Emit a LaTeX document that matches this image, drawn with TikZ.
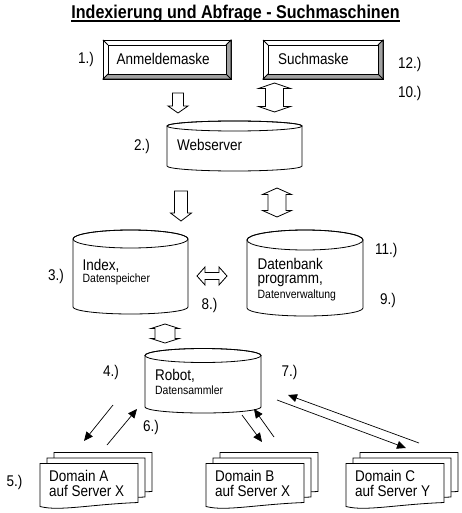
\documentclass[tikz,border=0pt]{standalone}
\usepackage{fontspec}
\setmainfont{Liberation Sans}[FakeStretch=0.87]
\usetikzlibrary{arrows.meta}
\definecolor{bevgray}{gray}{0.63}
% cylinder: name, x0, x1, ytop, ybot, ry top, ry bottom
\newcommand\mycyl[7]{%
  \pgfmathsetmacro\cylcx{(#2+#3)/2}%
  \pgfmathsetmacro\cylrx{(#3-#2)/2}%
  \pgfmathsetmacro\cylcy{(#4+#5)/2}%
  \draw[shapeline,fill=white] (#2,#4) -- (#2,#5) arc[start angle=180,end angle=360,x radius=\cylrx pt,y radius=#7pt] -- (#3,#4) arc[start angle=0,end angle=180,x radius=\cylrx pt,y radius=#6pt] -- cycle;
  \draw[shapeline] (\cylcx,#4) ellipse[x radius=\cylrx pt,y radius=#6pt];
  \coordinate (#1) at (\cylcx,\cylcy);
}
% bevel button: name, x0, y0, x1, y1
\newcommand\mybtn[5]{%
  \pgfmathsetmacro\ba{#2+5}\pgfmathsetmacro\bb{#3+5}%
  \pgfmathsetmacro\bc{#4-5}\pgfmathsetmacro\bd{#5-5}%
  \draw[shapeline,fill=white] (#2,#3) rectangle (#4,#5);
  \draw[shapeline,fill=bevgray] (#4,#3) -- (#4,#5) -- (#2,#5) -- (\ba,\bd) -- (\bc,\bd) -- (\bc,\bb) -- cycle;
  \draw[shapeline,fill=white] (\ba,\bb) rectangle (\bc,\bd);
  \draw[shapeline] (#2,#3) -- (\ba,\bb) (#4,#5) -- (\bc,\bd);
  \coordinate (#1) at ({(#2+#4)/2},{(#3+#5)/2});
}
% vertical hollow double arrow: name, cx, ytop, ybot, head half, shaft half, head length
\newcommand\vdbl[7]{%
  \pgfmathsetmacro\qa{#2-#5}\pgfmathsetmacro\qb{#2-#6}%
  \pgfmathsetmacro\qc{#2+#6}\pgfmathsetmacro\qd{#2+#5}%
  \pgfmathsetmacro\qe{#3+#7}\pgfmathsetmacro\qf{#4-#7}%
  \draw[shapeline,fill=white] (#2,#3) -- (\qd,\qe) -- (\qc,\qe) -- (\qc,\qf) -- (\qd,\qf) -- (#2,#4) -- (\qa,\qf) -- (\qb,\qf) -- (\qb,\qe) -- (\qa,\qe) -- cycle;
  \coordinate (#1) at (#2,{(#3+#4)/2});
}
% horizontal hollow double arrow: name, cy, xleft, xright, head half, shaft half, head length
\newcommand\hdbl[7]{%
  \pgfmathsetmacro\qa{#2-#5}\pgfmathsetmacro\qb{#2-#6}%
  \pgfmathsetmacro\qc{#2+#6}\pgfmathsetmacro\qd{#2+#5}%
  \pgfmathsetmacro\qe{#3+#7}\pgfmathsetmacro\qf{#4-#7}%
  \draw[shapeline,fill=white] (#3,#2) -- (\qe,\qd) -- (\qe,\qc) -- (\qf,\qc) -- (\qf,\qd) -- (#4,#2) -- (\qf,\qa) -- (\qf,\qb) -- (\qe,\qb) -- (\qe,\qa) -- cycle;
  \coordinate (#1) at ({(#3+#4)/2},#2);
}
% hollow down arrow: name, cx, ytop, ybot, head half, shaft half, head length
\newcommand\vdown[7]{%
  \pgfmathsetmacro\qa{#2-#5}\pgfmathsetmacro\qb{#2-#6}%
  \pgfmathsetmacro\qc{#2+#6}\pgfmathsetmacro\qd{#2+#5}%
  \pgfmathsetmacro\qf{#4-#7}%
  \draw[shapeline,fill=white] (\qb,#3) -- (\qc,#3) -- (\qc,\qf) -- (\qd,\qf) -- (#2,#4) -- (\qa,\qf) -- (\qb,\qf) -- cycle;
  \coordinate (#1) at (#2,{(#3+#4)/2});
}
% one document sheet: x, y, w
\newcommand\onedoc[3]{%
  \draw[shapeline,fill=white] (#1,#2) -- ({#1+#3},#2) -- ({#1+#3},{#2+39}) .. controls ({#1+0.5*#3},{#2+41}) and ({#1+0.2*#3},{#2+48}) .. (#1,{#2+43}) -- cycle;
}
% stack of documents: name, x, y, w, line1, line2
\newcommand\docstack[6]{%
  \onedoc{#2+14}{#3-11}{#4}
  \onedoc{#2+7}{#3-5.5}{#4}
  \onedoc{#2}{#3}{#4}
  \coordinate (#1) at ({#2+0.5*#4},{#3+20});
  \node[lbl] (#1a) at ({#2+9},481) {#5};
  \node[lbl] (#1b) at ({#2+9},496.5) {#6};
}
\begin{document}
\begin{tikzpicture}[x=1pt,y=-1pt,
  shapeline/.style={draw=black,line width=0.8pt},
  lbl/.style={font=\fontsize{15.5}{18}\selectfont,inner sep=0pt,anchor=base west},
  sml/.style={font=\fontsize{12}{14}\selectfont,inner sep=0pt,anchor=base west},
  thinarrow/.style={line width=0.7pt,-{Triangle[length=9pt,width=8pt]}}]
\useasboundingbox (0,0) rectangle (462,513);

% title
\node[font=\bfseries\fontsize{18.5}{22}\selectfont,inner sep=0pt,anchor=base] (title) at (235.5,18.3) {Indexierung und Abfrage - Suchmaschinen};
\draw[line width=1.2pt] ([yshift=-2.8pt]title.base west) -- ([yshift=-2.8pt]title.base east);

% buttons
\mybtn{b1}{103}{40}{231}{79}
\mybtn{b2}{263}{40}{383}{79}
\node[lbl] (t1) at (116.5,65) {Anmeldemaske};
\node[lbl] (t2) at (278,65) {Suchmaske};
\node[lbl] (n1) at (78,64) {1.)};
\node[lbl] (n12) at (398,68.5) {12.)};
\node[lbl] (n10) at (398,97.5) {10.)};

% hollow arrows
\vdown{ar1}{178}{93}{113}{10}{5.5}{7}
\vdbl{ar2}{274.5}{83}{112}{16}{9}{5.5}
\vdown{ar3}{181}{191}{221}{10.5}{6.5}{8}
\vdbl{ar4}{277}{188}{217}{14.5}{9}{6.5}
\hdbl{ar5}{276}{197}{227}{9}{3.5}{8}
\vdbl{ar6}{165}{324}{343}{14}{10}{4.5}

% webserver
\mycyl{ws}{167}{302}{126}{166}{5}{5}
\node[lbl] (tws) at (177,150) {Webserver};
\node[lbl] (n2) at (134,150) {2.)};

% index
\mycyl{idx}{73}{188}{239}{307}{9}{7}
\node[lbl] (tidx) at (82.5,270) {Index,};
\node[sml] (tidx2) at (82.5,282.5) {Datenspeicher};
\node[lbl] (n3) at (48,280) {3.)};
\node[lbl] (n8) at (201.5,309) {8.)};

% database
\mycyl{db}{247}{363}{240}{308}{10}{8}
\node[lbl] (tdb1) at (257.5,269) {Datenbank};
\node[lbl] (tdb2) at (257.5,283.5) {programm,};
\node[sml] (tdb3) at (257.5,298) {Datenverwaltung};
\node[lbl] (n11) at (375,254) {11.)};
\node[lbl] (n9) at (380,304) {9.)};

% robot
\mycyl{rb}{145}{261}{355.5}{407}{7}{6}
\node[lbl] (trb) at (155,380) {Robot,};
\node[sml] (trb2) at (155,394) {Datensammler};
\node[lbl] (n4) at (103,376.7) {4.)};
\node[lbl] (n7) at (281.5,376.7) {7.)};
\node[lbl] (n6) at (143,431.7) {6.)};

% domains
\docstack{da}{40}{463.5}{98}{Domain A}{auf Server X}
\docstack{dbb}{206}{463.5}{98}{Domain B}{auf Server X}
\docstack{dc}{346}{463.5}{98}{Domain C}{auf Server Y}
\node[lbl] (n5) at (6.5,486) {5.)};

% thin arrows
\coordinate (a4s) at (113,405);
\coordinate (a4e) at (84,441);
\coordinate (a6s) at (107,445);
\coordinate (a6e) at (137,409);
\coordinate (bds) at (242,415);
\coordinate (bde) at (262,442);
\coordinate (bus) at (274,437);
\coordinate (bue) at (254,409);
\coordinate (cds) at (277,400);
\coordinate (cde) at (406,448);
\coordinate (cus) at (419,443);
\coordinate (cue) at (288,395);
\draw[thinarrow] (a4s) -- (a4e);
\draw[thinarrow] (a6s) -- (a6e);
\draw[thinarrow] (bds) -- (bde);
\draw[thinarrow] (bus) -- (bue);
\draw[thinarrow] (cds) -- (cde);
\draw[thinarrow] (cus) -- (cue);
\end{tikzpicture}
\end{document}
